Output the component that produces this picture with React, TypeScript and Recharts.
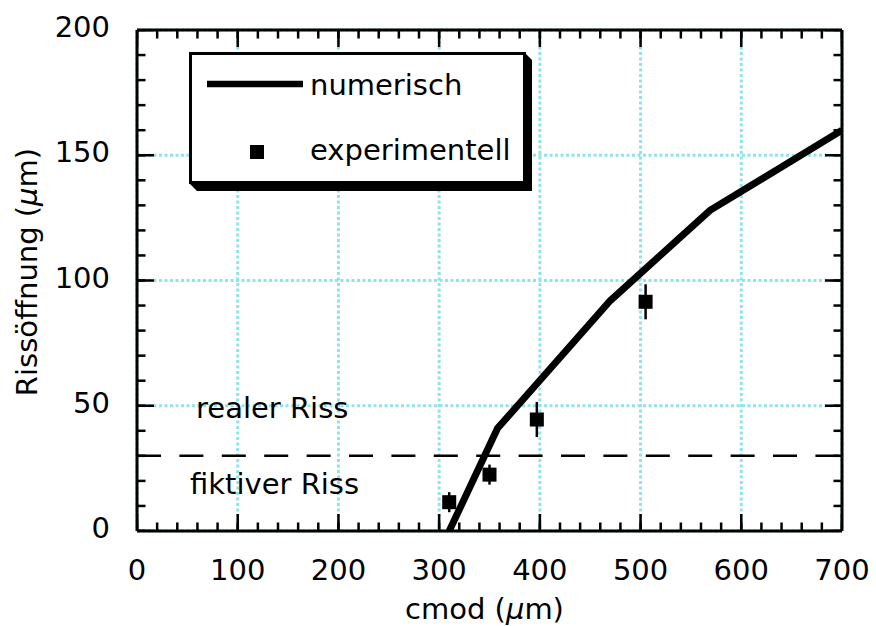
import React from 'react';
import {
  ComposedChart,
  Line,
  Scatter,
  XAxis,
  YAxis,
  CartesianGrid,
  ReferenceLine,
  ErrorBar,
  Label,
  Legend,
} from 'recharts';

// ---- data ----
const numericX = [310, 358, 470, 569, 700];
const numericY = [0, 41, 92, 128, 160];

const expX = [310, 350, 397, 505];
const expY = [11.5, 22.5, 44.5, 91.5];
const expErr = [4, 4, 7, 7];

const fictitiousLimit = 30;

const xDomain = [0, 700];
const yDomain = [0, 200];
const xMajorTicks = [0, 100, 200, 300, 400, 500, 600, 700];
const xMinorTicks = [
  0, 20, 40, 60, 80, 100, 120, 140, 160, 180, 200, 220, 240, 260, 280, 300, 320, 340,
  360, 380, 400, 420, 440, 460, 480, 500, 520, 540, 560, 580, 600, 620, 640, 660, 680, 700,
];
const yMajorTicks = [0, 50, 100, 150, 200];
const yMinorTicks = [
  0, 10, 20, 30, 40, 50, 60, 70, 80, 90, 100, 110, 120, 130, 140, 150, 160, 170, 180, 190, 200,
];

const seriesNames = ['numerisch', 'experimentell'];
const xTitle = 'cmod (';
const yTitle = 'Rissöffnung (';
const upperText = 'realer Riss';
const lowerText = 'fiktiver Riss';

const numericData = numericX.map((x, i) => ({ x, y: numericY[i] }));
const expData = expX.map((x, i) => ({ x, y: expY[i], err: expErr[i] }));

// tick-mark anchor points on the frame (positions come from the axis scales)
const bottomMajor = xMajorTicks.map((x) => ({ x, y: yDomain[0] }));
const bottomMinor = xMinorTicks.map((x) => ({ x, y: yDomain[0] }));
const topMajor = xMajorTicks.map((x) => ({ x, y: yDomain[1] }));
const topMinor = xMinorTicks.map((x) => ({ x, y: yDomain[1] }));
const leftMajor = yMajorTicks.map((y) => ({ x: xDomain[0], y }));
const leftMinor = yMinorTicks.map((y) => ({ x: xDomain[0], y }));
const rightMajor = yMajorTicks.map((y) => ({ x: xDomain[1], y }));
const rightMinor = yMinorTicks.map((y) => ({ x: xDomain[1], y }));

const FONT = '"DejaVu Sans", sans-serif';
const FS = 29;
const GRID = '#8fe4ec';
const THIN = 0.01;
const MAJOR = 17;
const MINOR = 8.5;

const tickMark = (dx: number, dy: number) => (props: any) => {
  const cx = Number(props.cx);
  const cy = Number(props.cy);
  if (!isFinite(cx) || !isFinite(cy)) return <g />;
  return <line x1={cx} y1={cy} x2={cx + dx} y2={cy + dy} stroke="#000" strokeWidth={2.5} />;
};

const BottomLabel = (props: any) => {
  const x = Number(props.x);
  const y = Number(props.y);
  return (
    <text x={x} y={y + 49} textAnchor="middle" fontFamily={FONT} fontSize={FS} fill="#000">
      {props.payload.value}
    </text>
  );
};

const LeftLabel = (props: any) => {
  const x = Number(props.x);
  const y = Number(props.y);
  return (
    <text x={x - 27} y={y + 7} textAnchor="end" fontFamily={FONT} fontSize={FS} fill="#000">
      {props.payload.value}
    </text>
  );
};

const Square = (props: any) => {
  const { cx, cy } = props;
  if (cx == null || cy == null) return <g />;
  return <rect x={cx - 7} y={cy - 7} width={14} height={14} fill="#000" />;
};

const LegendBox = () => (
  <svg width={346} height={142} style={{ display: 'block' }}>
    <polygon points="336,1 343,8 343,139 8,139 1,132" fill="#000" />
    <rect x={1.5} y={1.5} width={334} height={129} fill="#fff" stroke="#000" strokeWidth={3} />
    <line x1={18} x2={114} y1={32} y2={32} stroke="#000" strokeWidth={6.5} />
    <text x={121} y={43} fontFamily={FONT} fontSize={FS} fill="#000">
      {seriesNames[0]}
    </text>
    <rect x={61} y={93} width={14} height={14} fill="#000" />
    <text x={121} y={108} fontFamily={FONT} fontSize={FS} fill="#000">
      {seriesNames[1]}
    </text>
  </svg>
);

const XTitle = (props: any) => {
  const vb = props.viewBox || { x: 137, y: 531, width: 705, height: 0 };
  return (
    <text
      x={vb.x + vb.width / 2 - 5}
      y={619}
      textAnchor="middle"
      fontFamily={FONT}
      fontSize={FS}
      fill="#000"
    >
      {xTitle}
      <tspan fontStyle="italic">μ</tspan>m)
    </text>
  );
};

const YTitle = () => {
  const cx = 37;
  const cy = 272;
  return (
    <text
      x={cx}
      y={cy}
      transform={`rotate(-90, ${cx}, ${cy})`}
      textAnchor="middle"
      fontFamily={FONT}
      fontSize={FS}
      fill="#000"
    >
      {yTitle}
      <tspan fontStyle="italic">μ</tspan>m)
    </text>
  );
};

const RegionLabels = (props: any) => {
  const vb = props.viewBox || { x: 137, y: 456, width: 705, height: 0 };
  return (
    <g>
      <text x={vb.x + 59} y={vb.y - 38} fontFamily={FONT} fontSize={FS} fill="#000">
        {upperText}
      </text>
      <text x={vb.x + 53} y={vb.y + 38} fontFamily={FONT} fontSize={FS} fill="#000">
        {lowerText}
      </text>
    </g>
  );
};

const borderStyle = { stroke: '#000', strokeWidth: 3 };

const tickSeries: Array<[string, any[], number, number]> = [
  ['bM', bottomMajor, 0, -MAJOR],
  ['bm', bottomMinor, 0, -MINOR],
  ['tM', topMajor, 0, MAJOR],
  ['tm', topMinor, 0, MINOR],
  ['lM', leftMajor, MAJOR, 0],
  ['lm', leftMinor, MINOR, 0],
  ['rM', rightMajor, -MAJOR, 0],
  ['rm', rightMinor, -MINOR, 0],
];

export default function App() {
  return (
    <div style={{ position: 'absolute', left: 0, top: 0, background: '#fff' }}>
      <ComposedChart
        width={876}
        height={626}
        margin={{ top: 30, right: 34, bottom: 95, left: 137 }}
      >
        <CartesianGrid
          xAxisId="b"
          yAxisId="l"
          stroke={GRID}
          strokeWidth={3}
          strokeDasharray="3 2.5"
        />
        <XAxis
          xAxisId="b"
          dataKey="x"
          type="number"
          domain={xDomain}
          ticks={xMajorTicks}
          interval={0}
          orientation="bottom"
          height={THIN}
          tickSize={0}
          tickMargin={0}
          tickLine={false}
          tick={<BottomLabel />}
          axisLine={borderStyle}
          allowDataOverflow
        >
          <Label content={<XTitle />} />
        </XAxis>
        <XAxis
          xAxisId="t"
          type="number"
          domain={xDomain}
          ticks={xMajorTicks}
          orientation="top"
          height={THIN}
          tickLine={false}
          tick={false}
          axisLine={borderStyle}
          allowDataOverflow
        />
        <YAxis
          yAxisId="l"
          dataKey="y"
          type="number"
          domain={yDomain}
          ticks={yMajorTicks}
          interval={0}
          orientation="left"
          width={THIN}
          tickSize={0}
          tickMargin={0}
          tickLine={false}
          tick={<LeftLabel />}
          axisLine={borderStyle}
          allowDataOverflow
        >
          <Label content={<YTitle />} />
        </YAxis>
        <YAxis
          yAxisId="r"
          type="number"
          domain={yDomain}
          ticks={yMajorTicks}
          orientation="right"
          width={THIN}
          tickLine={false}
          tick={false}
          axisLine={borderStyle}
          allowDataOverflow
        />
        <ReferenceLine
          xAxisId="b"
          yAxisId="l"
          y={fictitiousLimit}
          stroke="#000"
          strokeWidth={2.5}
          strokeDasharray="24 18.4"
        >
          <Label content={<RegionLabels />} />
        </ReferenceLine>
        {tickSeries.map(([id, data, dx, dy]) => (
          <Scatter
            key={id}
            xAxisId="b"
            yAxisId="l"
            data={data}
            dataKey="y"
            shape={tickMark(dx, dy)}
            isAnimationActive={false}
            legendType="none"
          />
        ))}
        <Line
          xAxisId="b"
          yAxisId="l"
          data={numericData}
          dataKey="y"
          type="linear"
          stroke="#000"
          strokeWidth={7}
          dot={false}
          activeDot={false}
          isAnimationActive={false}
          name={seriesNames[0]}
        />
        <Scatter
          xAxisId="b"
          yAxisId="l"
          data={expData}
          dataKey="y"
          shape={<Square />}
          isAnimationActive={false}
          name={seriesNames[1]}
        >
          <ErrorBar dataKey="err" direction="y" width={0} stroke="#000" strokeWidth={2.5} />
        </Scatter>
        <Legend
          layout="horizontal"
          verticalAlign="middle"
          align="center"
          content={<LegendBox />}
          wrapperStyle={{ left: 189, top: 52, width: 346, height: 142 }}
        />
      </ComposedChart>
    </div>
  );
}
